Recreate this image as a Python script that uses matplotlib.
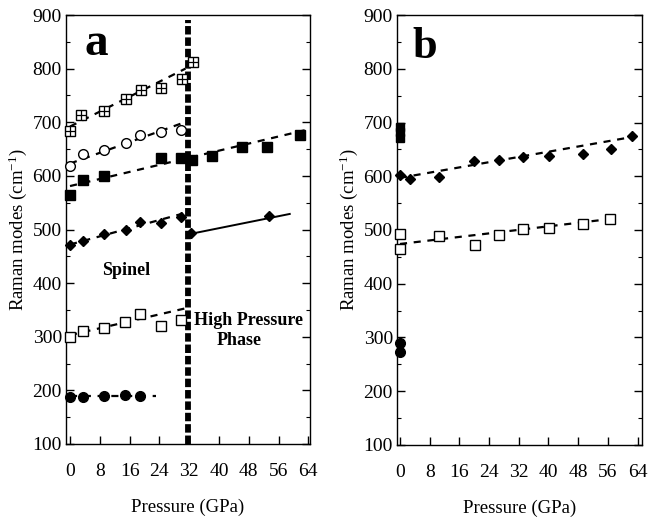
import numpy as np
import matplotlib
matplotlib.use("Agg")
import matplotlib.pyplot as plt
from matplotlib.ticker import MultipleLocator

plt.rcParams['font.family'] = ['Liberation Serif', 'DejaVu Serif']
plt.rcParams['mathtext.fontset'] = 'custom'
plt.rcParams['mathtext.rm'] = 'Liberation Serif'
plt.rcParams['mathtext.it'] = 'Liberation Serif:italic'

# ---- panel a data (pressure in GPa, Raman shift in cm-1) ----
p_cross = [0, 3, 9, 15, 19, 24.5, 30, 33]
w_cross = [684, 713, 721, 743, 761, 764, 780, 813]
p_circ_open = [0, 3.4, 9, 15, 18.7, 24.4, 29.7]
w_circ_open = [618, 640, 649, 661, 677, 681, 685]
p_sq_fill = [0, 3.4, 9, 24.3, 29.7, 32.7, 38.2, 46.2, 52.9, 61.8]
w_sq_fill = [565, 593, 599, 633, 633, 630, 637, 654, 654, 677]
p_dia = [0, 3.5, 9.2, 14.9, 18.9, 24.5, 29.8]
w_dia = [471, 479, 492, 500, 514, 512, 524]
p_dia_hp = [32.6, 53.4]
w_dia_hp = [494, 526]
p_sq_open = [0, 3.4, 9, 14.8, 18.7, 24.4, 29.7]
w_sq_open = [300, 311, 317, 327, 342, 320, 331]
p_circ_fill = [0, 3.4, 9.1, 14.8, 18.7]
w_circ_fill = [188, 188, 190, 191, 190]

# fitted trends: (p_start, p_end), (w_start, w_end)
fit_cross = ([0, 31], [692, 800])
fit_circ_open = ([0, 30], [623, 698])
fit_sq_fill = ([0, 63], [581, 685])
fit_dia = ([0, 31], [472, 531])
fit_dia_hp = ([32.5, 59], [492, 529])
fit_sq_open = ([0, 31], [303, 353])
fit_circ_fill = ([0, 23], [190, 190])
p_transition = 31.8

# ---- panel b data ----
p_b_dia = [0, 2.7, 10.6, 20, 26.6, 33.2, 40.2, 49.3, 56.8, 62.5]
w_b_dia = [602, 594, 598, 628, 631, 636, 637, 641, 650, 675]
p_b_sq = [0, 0, 10.6, 20.2, 26.7, 33.2, 40.2, 49.2, 56.7]
w_b_sq = [492, 464, 489, 472, 490, 501, 503, 512, 521]
p_b_sq_fill = [0, 0, 0]
w_b_sq_fill = [672, 682, 692]
p_b_circ_fill = [0, 0]
w_b_circ_fill = [289, 273]
fit_b_dia = ([0, 62.5], [597, 673])
fit_b_sq = ([0, 58.5], [474, 522])

xticks = [0, 8, 16, 24, 32, 40, 48, 56, 64]
yticks = [100, 200, 300, 400, 500, 600, 700, 800, 900]

dash = dict(color='black', lw=1.6, dashes=(3.2, 3.0), zorder=1)
ms = 7

fig = plt.figure(figsize=(6.57, 5.21), dpi=100)
ax_a = fig.add_axes([0.1005, 0.1478, 0.3714, 0.8234])
ax_b = fig.add_axes([0.6043, 0.1459, 0.3729, 0.8253])


def style_axes(ax, xlim):
    ax.set_xlim(*xlim)
    ax.set_ylim(100, 900)
    ax.set_xticks(xticks)
    ax.set_yticks(yticks)
    ax.yaxis.set_minor_locator(MultipleLocator(50))
    ax.tick_params(axis='x', direction='in', length=6, width=1, pad=14, labelsize=14, top=False)
    ax.tick_params(axis='y', which='major', direction='in', length=6, width=1, pad=3,
                   labelsize=14, right=True)
    ax.tick_params(axis='y', which='minor', direction='in', length=3, width=0.8, right=True)
    for s in ax.spines.values():
        s.set_linewidth(1.0)
    ax.set_xlabel('Pressure (GPa)', fontsize=13.5, labelpad=13)
    ax.set_ylabel('Raman modes (cm$^{\\mathrm{-1}}$)', fontsize=13.5)
    ax.yaxis.set_label_coords(-0.15, 0.5)


# ---------------- panel a ----------------
ax = ax_a
for (px, wy) in [fit_cross, fit_circ_open, fit_sq_fill, fit_dia, fit_sq_open, fit_circ_fill]:
    ax.plot(px, wy, **dash)
ax.plot(fit_dia_hp[0], fit_dia_hp[1], color='black', lw=1.4, zorder=1)
ax.plot(p_cross, w_cross, 's', ms=ms, mfc='white', mec='black', mew=1, ls='none', clip_on=False, zorder=3)
ax.plot(p_cross, w_cross, '+', ms=ms * 0.95, mec='black', mew=0.9, ls='none', clip_on=False, zorder=4)
ax.plot(p_circ_open, w_circ_open, 'o', ms=ms, mfc='white', mec='black', mew=1, ls='none', clip_on=False, zorder=3)
ax.plot(p_sq_fill, w_sq_fill, 's', ms=7.5, color='black', ls='none', clip_on=False, zorder=3)
ax.plot(p_dia + p_dia_hp, w_dia + w_dia_hp, 'D', ms=5.5, color='black', ls='none', clip_on=False, zorder=3)
ax.plot(p_sq_open, w_sq_open, 's', ms=ms, mfc='white', mec='black', mew=1, ls='none', clip_on=False, zorder=3)
ax.plot(p_circ_fill, w_circ_fill, 'o', ms=ms, color='black', ls='none', clip_on=False, zorder=3)
ax.plot([p_transition, p_transition], [100, 891], color='black', lw=4.2, dashes=(1.45, 0.5), zorder=2)

ax.text(7, 846, 'a', fontsize=34, fontweight='bold', ha='center', va='center')
ax.text(15.2, 423, 'Spinel', fontsize=13, fontweight='bold', ha='center', va='center')
ax.text(47.8, 331, 'High Pressure', fontsize=13, fontweight='bold', ha='center', va='center')
ax.text(45.4, 293, 'Phase', fontsize=13, fontweight='bold', ha='center', va='center')
style_axes(ax, (-1.07, 64.45))

# ---------------- panel b ----------------
ax = ax_b
for (px, wy) in [fit_b_dia, fit_b_sq]:
    ax.plot(px, wy, **dash)
ax.plot(p_b_dia, w_b_dia, 'D', ms=5.5, color='black', ls='none', clip_on=False, zorder=3)
ax.plot(p_b_sq, w_b_sq, 's', ms=ms, mfc='white', mec='black', mew=1, ls='none', clip_on=False, zorder=3)
ax.plot(p_b_sq_fill, w_b_sq_fill, 's', ms=6, color='black', ls='none', clip_on=False, zorder=3)
ax.plot(p_b_circ_fill, w_b_circ_fill, 'o', ms=ms, color='black', ls='none', clip_on=False, zorder=3)
ax.text(6.7, 841, 'b', fontsize=32, fontweight='bold', ha='center', va='center')
style_axes(ax, (-0.8, 65.2))

fig.savefig('out.png', dpi=100)
